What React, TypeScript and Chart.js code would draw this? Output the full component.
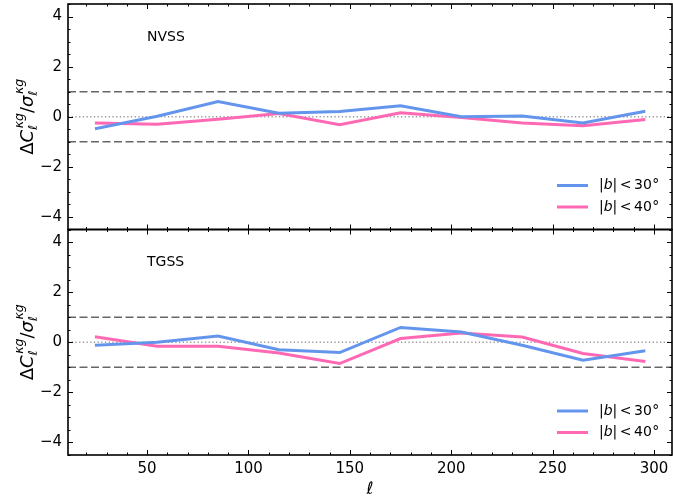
import React, { useEffect, useRef } from 'react';
import { Chart, registerables } from 'chart.js';

Chart.register(...registerables);

// ---- data ----
const ell = [25, 55, 85, 115, 145, 175, 205, 235, 265, 295];
const nvss30 = [-0.47, 0.02, 0.61, 0.14, 0.21, 0.44, 0.0, 0.03, -0.25, 0.21];
const nvss40 = [-0.25, -0.3, -0.1, 0.13, -0.32, 0.16, -0.03, -0.25, -0.36, -0.12];
const tgss30 = [-0.12, 0.0, 0.25, -0.3, -0.41, 0.59, 0.41, -0.12, -0.72, -0.35];
const tgss40 = [0.21, -0.16, -0.16, -0.43, -0.85, 0.15, 0.37, 0.21, -0.45, -0.76];
const panelNames = ['NVSS', 'TGSS'];
const seriesCuts = ['30', '40'];
const seriesColors = ['#6495ED', '#FF69B4'];
const xTicks = [50, 100, 150, 200, 250, 300];
const yTicks = [-4, -2, 0, 2, 4];
const dashedRefs = [1, -1];
const dottedRefs = [0];

const FONT = '"DejaVu Sans", sans-serif';

const fmt = (v: number) => (v < 0 ? '\u2212' + Math.abs(v) : String(v));

const pairs = (ys: number[]) => ell.map((x, i) => ({ x, y: ys[i] }));

function drawYLabel(ctx: CanvasRenderingContext2D, cx: number, cy: number) {
  const big = 18;
  const small = 12.5;
  const regular = `${big}px ${FONT}`;
  const ital = `italic ${big}px ${FONT}`;
  const smallItal = `italic ${small}px ${FONT}`;
  type Seg = { t?: string; font?: string; sup?: string; sub?: string };
  const segs: Seg[] = [
    { t: '\u0394', font: regular },
    { t: 'C', font: ital },
    { sup: '\u03bag', sub: '\u2113' },
    { t: '/', font: regular },
    { t: '\u03c3', font: ital },
    { sup: '\u03bag', sub: '\u2113' },
  ];
  const widths = segs.map((s) => {
    if (s.t) {
      ctx.font = s.font!;
      return ctx.measureText(s.t).width;
    }
    ctx.font = smallItal;
    return Math.max(ctx.measureText(s.sup!).width, ctx.measureText(s.sub!).width) + 1.5;
  });
  const total = widths.reduce((a, b) => a + b, 0);
  ctx.save();
  ctx.translate(cx, cy);
  ctx.rotate(-Math.PI / 2);
  ctx.fillStyle = '#000';
  ctx.textBaseline = 'alphabetic';
  ctx.textAlign = 'left';
  let x = -total / 2;
  segs.forEach((s, i) => {
    if (s.t) {
      ctx.font = s.font!;
      ctx.fillText(s.t, x, 0);
    } else {
      ctx.font = smallItal;
      ctx.fillText(s.sup!, x + 1.5, -10);
      ctx.fillText(s.sub!, x, 4);
    }
    x += widths[i];
  });
  ctx.restore();
}

const panelPlugin = {
  id: 'panelDecor',
  beforeDatasetsDraw(chart: any) {
    const { ctx, chartArea, scales } = chart;
    ['yTop', 'yBot'].forEach((id) => {
      const ys = scales[id];
      ctx.save();
      ctx.beginPath();
      ctx.rect(chartArea.left, ys.top, chartArea.right - chartArea.left, ys.bottom - ys.top);
      ctx.clip();
      dashedRefs.forEach((v) => {
        const y = ys.getPixelForValue(v);
        ctx.strokeStyle = '#666666';
        ctx.lineWidth = 1.5;
        ctx.setLineDash([8, 3.5]);
        ctx.beginPath();
        ctx.moveTo(chartArea.left, y);
        ctx.lineTo(chartArea.right, y);
        ctx.stroke();
      });
      dottedRefs.forEach((v) => {
        const y = ys.getPixelForValue(v);
        ctx.strokeStyle = '#999999';
        ctx.lineWidth = 1.3;
        ctx.setLineDash([1.3, 2.4]);
        ctx.beginPath();
        ctx.moveTo(chartArea.left, y);
        ctx.lineTo(chartArea.right, y);
        ctx.stroke();
      });
      ctx.restore();
    });
  },
  afterDraw(chart: any) {
    const { ctx, chartArea, scales } = chart;
    const xs = scales.x;
    const left = chartArea.left;
    const right = chartArea.right;
    ['yTop', 'yBot'].forEach((id, pi) => {
      const ys = scales[id];
      const top = ys.top;
      const bottom = ys.bottom;
      ctx.save();
      ctx.strokeStyle = '#000';
      ctx.lineWidth = 1;
      ctx.setLineDash([]);
      // y ticks (major & minor, inward, both sides)
      for (let k = -9; k <= 9; k++) {
        const v = k * 0.5;
        if (v < ys.min || v > ys.max) continue;
        const major = yTicks.includes(v);
        const len = major ? 5 : 2.5;
        const y = Math.round(ys.getPixelForValue(v)) + 0.5;
        ctx.beginPath();
        ctx.moveTo(left, y);
        ctx.lineTo(left + len, y);
        ctx.moveTo(right, y);
        ctx.lineTo(right - len, y);
        ctx.stroke();
      }
      // x ticks (top & bottom of each panel, inward)
      for (let v = 0; v <= 320; v += 10) {
        if (v < xs.min || v > xs.max) continue;
        const major = xTicks.includes(v);
        const len = major ? 5 : 2.5;
        const x = Math.round(xs.getPixelForValue(v)) + 0.5;
        ctx.beginPath();
        ctx.moveTo(x, bottom);
        ctx.lineTo(x, bottom - len);
        ctx.moveTo(x, top);
        ctx.lineTo(x, top + len);
        ctx.stroke();
      }
      // spine
      ctx.lineWidth = 1.6;
      ctx.strokeRect(left, top, right - left, bottom - top);

      // panel label
      ctx.fillStyle = '#000';
      ctx.font = `14px ${FONT}`;
      ctx.textAlign = 'left';
      ctx.textBaseline = 'middle';
      ctx.fillText(panelNames[pi], 147, top + 33);

      // legend
      seriesCuts.forEach((cut, si) => {
        const ly = top + 181.5 + si * 21.5;
        ctx.strokeStyle = seriesColors[si];
        ctx.lineWidth = 3;
        ctx.beginPath();
        ctx.moveTo(557, ly);
        ctx.lineTo(588, ly);
        ctx.stroke();
        ctx.fillStyle = '#000';
        ctx.textBaseline = 'middle';
        let tx = 599;
        const parts: [string, string, number][] = [
          ['|', `14px ${FONT}`, 0],
          ['b', `italic 14px ${FONT}`, 0],
          ['|', `14px ${FONT}`, 2.5],
          ['<', `14px ${FONT}`, 2.5],
          [cut, `14px ${FONT}`, 0.5],
          ['\u00b0', `14px ${FONT}`, 0],
        ];
        parts.forEach(([t, f, gap]) => {
          ctx.font = f;
          ctx.fillText(t, tx, ly);
          tx += ctx.measureText(t).width + gap;
        });
      });
      ctx.restore();

      drawYLabel(ctx, 33, (top + bottom) / 2);
    });

    // x axis title
    ctx.save();
    ctx.fillStyle = '#000';
    ctx.font = `italic 17px ${FONT}`;
    ctx.textAlign = 'center';
    ctx.textBaseline = 'alphabetic';
    ctx.fillText('\u2113', (left + right) / 2, 494);
    ctx.restore();
  },
};

const yScale = () => ({
  type: 'linear' as const,
  position: 'left' as const,
  stack: 'panels',
  stackWeight: 1,
  min: -4.5,
  max: 4.5,
  grid: { display: false, drawTicks: false },
  border: { display: false },
  ticks: {
    color: '#000',
    padding: 6,
    font: { family: 'DejaVu Sans', size: 15 },
    callback: (v: any) => fmt(Number(v)),
  },
  afterBuildTicks: (s: any) => {
    s.ticks = yTicks.map((v) => ({ value: v }));
  },
  afterFit: (s: any) => {
    s.width = 68;
    s.paddingTop = 0;
    s.paddingBottom = 0;
  },
});

export default function App() {
  const ref = useRef<HTMLCanvasElement | null>(null);
  useEffect(() => {
    if (!ref.current) return;
    const chart = new Chart(ref.current, {
      type: 'line',
      data: {
        datasets: [
          { data: pairs(nvss30), yAxisID: 'yTop', borderColor: seriesColors[0] },
          { data: pairs(nvss40), yAxisID: 'yTop', borderColor: seriesColors[1] },
          { data: pairs(tgss30), yAxisID: 'yBot', borderColor: seriesColors[0] },
          { data: pairs(tgss40), yAxisID: 'yBot', borderColor: seriesColors[1] },
        ].map((d) => ({ ...d, borderWidth: 3, borderCapStyle: 'square', pointRadius: 0, tension: 0, fill: false })),
      },
      options: {
        responsive: false,
        animation: false,
        devicePixelRatio: 1,
        layout: { padding: { top: 4, right: 1, left: 0, bottom: 0 } },
        plugins: { legend: { display: false }, tooltip: { enabled: false } },
        scales: {
          x: {
            type: 'linear',
            position: 'bottom',
            min: 11,
            max: 308.9,
            grid: { display: false, drawTicks: false },
            border: { display: false },
            ticks: {
              color: '#000',
              padding: 5,
              maxRotation: 0,
              font: { family: 'DejaVu Sans', size: 15 },
              callback: (v: any) => fmt(Number(v)),
            },
            afterBuildTicks: (s: any) => {
              s.ticks = xTicks.map((v) => ({ value: v }));
            },
            afterFit: (s: any) => {
              s.height = 44;
              s.paddingLeft = 0;
              s.paddingRight = 0;
            },
          },
          yBot: yScale(),
          yTop: yScale(),
        },
      } as any,
      plugins: [panelPlugin],
    });
    return () => chart.destroy();
  }, []);
  return (
    <div style={{ position: 'absolute', left: 0, top: 0, width: 673, height: 499, background: '#fff' }}>
      <canvas ref={ref} width={673} height={499} />
    </div>
  );
}
